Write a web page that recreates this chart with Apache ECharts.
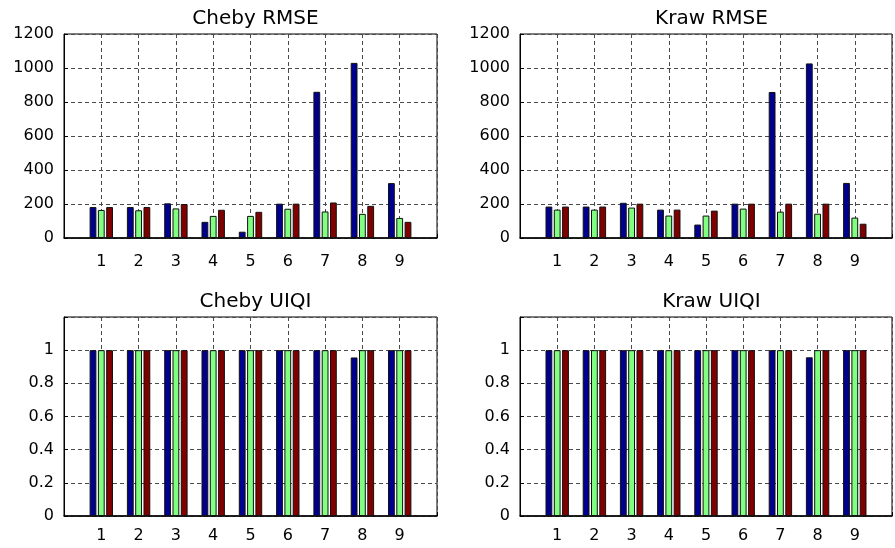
<!DOCTYPE html>
<html>
<head>
<meta charset="utf-8">
<script src="https://cdn.jsdelivr.net/npm/echarts@6/dist/echarts.min.js"></script>
<style>html,body{margin:0;padding:0;background:#fff}#c{width:895px;height:548px}</style>
</head>
<body>
<div id="c"></div>
<script>
const categories = [1, 2, 3, 4, 5, 6, 7, 8, 9];
const titles = ['Cheby RMSE', 'Kraw RMSE', 'Cheby UIQI', 'Kraw UIQI'];

const chebyRmseA = [182, 182, 204, 95, 37, 202, 860, 1030, 323];
const chebyRmseB = [165, 163, 174, 130, 130, 172, 156, 142, 118];
const chebyRmseC = [182, 182, 200, 166, 154, 202, 209, 189, 95];

const krawRmseA = [185, 185, 207, 167, 79, 202, 859, 1027, 324];
const krawRmseB = [167, 167, 179, 132, 132, 173, 155, 143, 120];
const krawRmseC = [185, 185, 202, 167, 161, 202, 202, 202, 84];

const chebyUiqiA = [1, 1, 1, 1, 1, 1, 1, 0.956, 1];
const chebyUiqiB = [1, 1, 1, 1, 1, 1, 1, 1, 1];
const chebyUiqiC = [1, 1, 1, 1, 1, 1, 1, 1, 1];

const krawUiqiA = [1, 1, 1, 1, 1, 1, 1, 0.957, 1];
const krawUiqiB = [1, 1, 1, 1, 1, 1, 1, 1, 1];
const krawUiqiC = [1, 1, 1, 1, 1, 1, 1, 1, 1];

const rmseTicks = [0, 200, 400, 600, 800, 1000, 1200];
const uiqiTicks = [0, 0.2, 0.4, 0.6, 0.8, 1];

const colors = ['#00008f', '#80ff80', '#800000'];
const FONT = 'DejaVu Sans';

const panels = [
  {grid: {left: 64, top: 34, width: 373, height: 204}, data: [chebyRmseA, chebyRmseB, chebyRmseC], max: 1200, interval: 200, ticks: rmseTicks, xMargin: 16},
  {grid: {left: 520, top: 34, width: 373, height: 204}, data: [krawRmseA, krawRmseB, krawRmseC], max: 1200, interval: 200, ticks: rmseTicks, xMargin: 16},
  {grid: {left: 64, top: 317, width: 373, height: 199}, data: [chebyUiqiA, chebyUiqiB, chebyUiqiC], max: 1.2, interval: 0.2, ticks: uiqiTicks, xMargin: 12},
  {grid: {left: 520, top: 317, width: 373, height: 199}, data: [krawUiqiA, krawUiqiB, krawUiqiC], max: 1.2, interval: 0.2, ticks: uiqiTicks, xMargin: 12}
];

const grid = [], xAxis = [], yAxis = [], series = [], title = [];
const dash = {color: '#4a4a4a', width: 1, type: [4, 3]};

panels.forEach((p, i) => {
  grid.push(Object.assign({show: true, borderColor: '#000', borderWidth: 1, backgroundColor: '#fff'}, p.grid));
  title.push({
    text: titles[i],
    left: p.grid.left + p.grid.width / 2,
    textAlign: 'center',
    top: p.grid.top - 30,
    textStyle: {fontFamily: FONT, fontSize: 20, fontWeight: 'normal', color: '#000'}
  });
  xAxis.push({
    type: 'value', gridIndex: i, min: 0, max: 10, interval: 1,
    axisLine: {show: true, lineStyle: {color: '#000', width: 1.5}},
    axisTick: {show: true, inside: true, length: 4, lineStyle: {color: '#000'}},
    axisLabel: {
      margin: p.xMargin, fontFamily: FONT, fontSize: 16, color: '#000',
      formatter: v => categories.indexOf(v) >= 0 ? String(v) : ''
    },
    splitLine: {show: true, lineStyle: dash}
  });
  yAxis.push({
    type: 'value', gridIndex: i, min: 0, max: p.max, interval: p.interval,
    axisLine: {show: true, lineStyle: {color: '#000', width: 1}},
    axisTick: {show: true, inside: true, length: 4, lineStyle: {color: '#000'}},
    axisLabel: {
      margin: 10, fontFamily: FONT, fontSize: 16, color: '#000',
      formatter: v => {
        const r = Math.round(v * 1000) / 1000;
        return p.ticks.indexOf(r) >= 0 ? String(r) : '';
      }
    },
    splitLine: {show: true, lineStyle: dash}
  });
  p.data.forEach((arr, k) => {
    series.push({
      type: 'bar', xAxisIndex: i, yAxisIndex: i,
      barWidth: 6.8, barGap: '22%',
      itemStyle: {color: colors[k], borderColor: '#111', borderWidth: 1},
      data: categories.map((c, j) => [c, arr[j]]),
      animation: false
    });
  });
});

const chart = echarts.init(document.getElementById('c'), null, {renderer: 'canvas'});
chart.setOption({animation: false, title, grid, xAxis, yAxis, series});
</script>
</body>
</html>
